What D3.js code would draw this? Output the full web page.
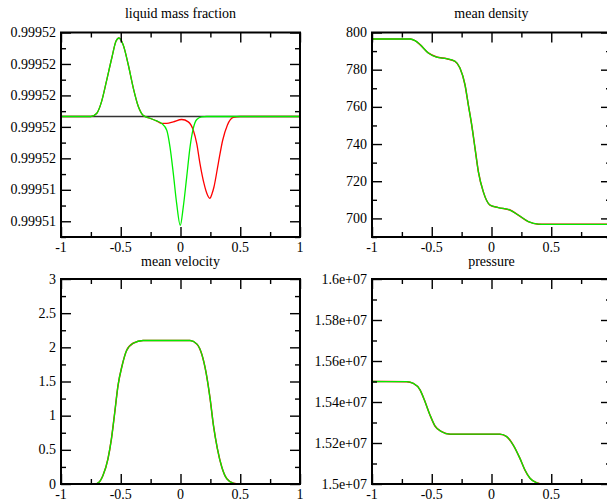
<!DOCTYPE html>
<html>
<head>
<meta charset="utf-8">
<script src="https://cdn.jsdelivr.net/npm/d3@7"></script>
<style>
  html, body { margin: 0; padding: 0; background: #fff; }
  svg { display: block; }
  text { font-family: "Liberation Serif", "Times New Roman", serif; fill: #000; }
</style>
</head>
<body>
<svg id="chart" width="607" height="502"></svg>
<script>
// ---------- shared x axis ----------
const xDomain = [-1, 1];
const xMajor = [-1, -0.5, 0, 0.5, 1];
const xMinor = [-0.75, -0.25, 0.25, 0.75];
const xLabels = ["-1", "-0.5", "0", "0.5", "1"];

// ---------- liquid mass fraction ----------
const lmfTitle = "liquid mass fraction";
const lmfDomain = [0.999511, 0.999524];
const lmfMajor = [0.999524, 0.999522, 0.999520, 0.999518, 0.999516, 0.999514, 0.999512];
const lmfMinor = [0.999523, 0.999521, 0.999519, 0.999517, 0.999515, 0.999513, 0.999511];
const lmfLabels = ["0.99952", "0.99952", "0.99952", "0.99952", "0.99952", "0.99951", "0.99951"];
const lmfInitX = [-1, 1];
const lmfInitY = [0.99951866, 0.99951866];
const lmfGreenX = [-1, -0.75, -0.70, -0.66, -0.62, -0.575, -0.54, -0.515, -0.48, -0.437,
  -0.395, -0.353, -0.311, -0.255, -0.2, -0.157, -0.115, -0.088, -0.06, -0.032,
  -0.002, 0.023, 0.052, 0.08, 0.107, 0.136, 0.177, 0.22, 1];
const lmfGreenY = [0.99951866, 0.99951866, 0.99951887, 0.99951962, 0.99952089, 0.99952238, 0.99952344, 0.99952365, 0.99952322, 0.99952195,
  0.99952047, 0.99951930, 0.99951873, 0.99951855, 0.99951838, 0.99951822, 0.99951779, 0.99951673, 0.99951503, 0.99951312,
  0.99951174, 0.99951290, 0.99951482, 0.99951673, 0.99951790, 0.99951847, 0.99951864, 0.99951866, 0.99951866];
const lmfRedX = [-1, -0.75, -0.70, -0.66, -0.62, -0.575, -0.54, -0.515, -0.48, -0.437,
  -0.395, -0.353, -0.311, -0.255, -0.2, -0.157, -0.115, -0.06, 0.01, 0.065,
  0.107, 0.136, 0.163, 0.197, 0.22, 0.245, 0.265, 0.28, 0.316, 0.353,
  0.392, 0.442, 0.5, 1];
const lmfRedY = [0.99951866, 0.99951866, 0.99951887, 0.99951962, 0.99952089, 0.99952238, 0.99952344, 0.99952365, 0.99952322, 0.99952195,
  0.99952047, 0.99951930, 0.99951873, 0.99951855, 0.99951838, 0.99951822, 0.99951822, 0.99951832, 0.99951847, 0.99951832,
  0.99951779, 0.99951694, 0.99951567, 0.99951439, 0.99951378, 0.99951346, 0.99951378, 0.99951418, 0.99951567, 0.99951715,
  0.99951811, 0.99951860, 0.99951866, 0.99951866];

// ---------- mean density ----------
const denTitle = "mean density";
const denDomain = [690, 800];
const denMajor = [800, 780, 760, 740, 720, 700];
const denMinor = [790, 770, 750, 730, 710, 690];
const denLabels = ["800", "780", "760", "740", "720", "700"];
const denX = [-1, -0.68, -0.64, -0.598, -0.529, -0.459, -0.375, -0.305, -0.264, -0.222,
  -0.194, -0.166, -0.138, -0.11, -0.069, -0.013, 0.057, 0.155, 0.224, 0.308,
  0.392, 0.45, 1];
const denRedY = [796.5, 796.5, 795.6, 793.5, 789, 786.8, 785.9, 784.5, 780.9, 771.9,
  761.1, 750.4, 737.8, 725.2, 714.4, 707.2, 705.8, 704.5, 701.8, 698.3,
  696.9, 696.8, 696.8];
const denGreenY = [796.5, 796.5, 795.6, 793.5, 789, 786.8, 785.9, 784.5, 780.9, 771.9,
  761.1, 750.4, 737.8, 725.2, 714.4, 707.2, 705.8, 704.5, 701.8, 698.3,
  696.9, 696.8, 696.8];

// ---------- mean velocity ----------
const velTitle = "mean velocity";
const velDomain = [0, 3];
const velMajor = [3, 2.5, 2, 1.5, 1, 0.5, 0];
const velMinor = [2.75, 2.25, 1.75, 1.25, 0.75, 0.25];
const velLabels = ["3", "2.5", "2", "1.5", "1", "0.5", "0"];
const velX = [-1, -0.72, -0.68, -0.649, -0.607, -0.578, -0.55, -0.523, -0.489, -0.452,
  -0.397, -0.313, 0.08, 0.136, 0.178, 0.214, 0.248, 0.276, 0.309, 0.346,
  0.388, 0.444, 0.49, 1];
const velRedY = [0, 0, 0.03, 0.124, 0.368, 0.66, 1.05, 1.44, 1.73, 1.95,
  2.06, 2.1, 2.1, 2.05, 1.90, 1.63, 1.245, 0.855, 0.515, 0.246,
  0.076, 0.01, 0, 0];
const velGreenY = [0, 0, 0.03, 0.124, 0.368, 0.66, 1.05, 1.44, 1.73, 1.95,
  2.06, 2.1, 2.1, 2.05, 1.90, 1.63, 1.245, 0.855, 0.515, 0.246,
  0.076, 0.01, 0, 0];

// ---------- pressure ----------
const preTitle = "pressure";
const preDomain = [15000000, 16000000];
const preMajor = [16000000, 15800000, 15600000, 15400000, 15200000, 15000000];
const preMinor = [15900000, 15700000, 15500000, 15300000, 15100000];
const preLabels = ["1.6e+07", "1.58e+07", "1.56e+07", "1.54e+07", "1.52e+07", "1.5e+07"];
const preX = [-1, -0.71, -0.654, -0.598, -0.556, -0.515, -0.473, -0.417, -0.347, 0.071,
  0.127, 0.182, 0.238, 0.28, 0.322, 0.378, 0.433, 1];
const preRedY = [15500000, 15499000, 15491000, 15459000, 15401000, 15337000, 15283000, 15255000, 15243000, 15243000,
  15231000, 15190000, 15125000, 15068000, 15028000, 15006000, 15000000, 15000000];
const preGreenY = [15500000, 15499000, 15491000, 15459000, 15401000, 15337000, 15283000, 15255000, 15243000, 15243000,
  15231000, 15190000, 15125000, 15068000, 15028000, 15006000, 15000000, 15000000];

// ---------- layout ----------
const W = 607, H = 502;
const svg = d3.select("#chart");
svg.append("rect").attr("width", W).attr("height", H).attr("fill", "#fff");

const panels = [
  { title: lmfTitle, titleY: 18, box: [61, 32.5, 300, 237], yDomain: lmfDomain, yMajor: lmfMajor, yMinor: lmfMinor, yLabels: lmfLabels,
    series: [
      { x: lmfInitX, y: lmfInitY, color: "#333333", width: 1.3 },
      { x: lmfRedX, y: lmfRedY, color: "#ff0000", width: 1.3 },
      { x: lmfGreenX, y: lmfGreenY, color: "#00ee00", width: 1.3 } ] },
  { title: denTitle, titleY: 18, box: [372, 32.5, 611, 237], yDomain: denDomain, yMajor: denMajor, yMinor: denMinor, yLabels: denLabels,
    series: [
      { x: denX, y: denRedY, color: "#ff0000", width: 1.5 },
      { x: denX, y: denGreenY, color: "#00ee00", width: 1.3 } ] },
  { title: velTitle, titleY: 266, box: [61, 279, 300, 484], yDomain: velDomain, yMajor: velMajor, yMinor: velMinor, yLabels: velLabels,
    series: [
      { x: velX, y: velRedY, color: "#ff0000", width: 1.5 },
      { x: velX, y: velGreenY, color: "#00ee00", width: 1.3 } ] },
  { title: preTitle, titleY: 266, box: [372, 279, 611, 484], yDomain: preDomain, yMajor: preMajor, yMinor: preMinor, yLabels: preLabels,
    series: [
      { x: preX, y: preRedY, color: "#ff0000", width: 1.5 },
      { x: preX, y: preGreenY, color: "#00ee00", width: 1.3 } ] }
];

const MAJ = 10, MIN = 5;

panels.forEach(p => {
  const [x0, y0, x1, y1] = p.box;
  const xs = d3.scaleLinear().domain(xDomain).range([x0, x1]);
  const ys = d3.scaleLinear().domain(p.yDomain).range([y1, y0]);
  const g = svg.append("g");

  // data lines
  p.series.forEach(s => {
    const pts = s.x.map((v, i) => [v, s.y[i]]);
    g.append("path")
      .attr("d", d3.line().x(d => xs(d[0])).y(d => ys(d[1])).curve(d3.curveMonotoneX)(pts))
      .attr("fill", "none").attr("stroke", s.color).attr("stroke-width", s.width)
      .attr("stroke-linejoin", "round");
  });

  // inward ticks on all four sides
  const mkAxis = (gen, scale, vals, len, transform) => {
    const a = g.append("g").attr("transform", transform)
      .call(gen(scale).tickValues(vals).tickSize(len).tickFormat(""));
    a.select(".domain").remove();
    a.selectAll("line").attr("stroke", "#000").attr("stroke-width", 1.4);
    return a;
  };
  mkAxis(d3.axisTop, xs, xMajor, MAJ, `translate(0,${y1})`);
  mkAxis(d3.axisTop, xs, xMinor, MIN, `translate(0,${y1})`);
  mkAxis(d3.axisBottom, xs, xMajor, MAJ, `translate(0,${y0})`);
  mkAxis(d3.axisBottom, xs, xMinor, MIN, `translate(0,${y0})`);
  mkAxis(d3.axisRight, ys, p.yMajor, MAJ, `translate(${x0},0)`);
  mkAxis(d3.axisRight, ys, p.yMinor, MIN, `translate(${x0},0)`);
  mkAxis(d3.axisLeft, ys, p.yMajor, MAJ, `translate(${x1},0)`);
  mkAxis(d3.axisLeft, ys, p.yMinor, MIN, `translate(${x1},0)`);

  // frame
  g.append("rect").attr("x", x0).attr("y", y0).attr("width", x1 - x0).attr("height", y1 - y0)
    .attr("fill", "none").attr("stroke", "#000").attr("stroke-width", 2);

  // x labels (those that fall off the page are not drawn, as in the reference)
  const xl = xMajor.map((d, i) => ({ v: d, t: xLabels[i] })).filter(d => xs(d.v) < W);
  g.selectAll(".xl").data(xl).enter().append("text")
    .attr("x", d => xs(d.v)).attr("y", y1 + 15)
    .attr("text-anchor", "middle").attr("font-size", 14)
    .text(d => d.t);

  // y labels
  g.selectAll(".yl").data(p.yMajor).enter().append("text")
    .attr("x", x0 - 5).attr("y", d => ys(d)).attr("dy", "0.33em")
    .attr("text-anchor", "end").attr("font-size", 14)
    .text((d, i) => p.yLabels[i]);

  // title
  g.append("text").attr("x", (x0 + x1) / 2).attr("y", p.titleY)
    .attr("text-anchor", "middle").attr("font-size", 14).text(p.title);
});
</script>
</body>
</html>
